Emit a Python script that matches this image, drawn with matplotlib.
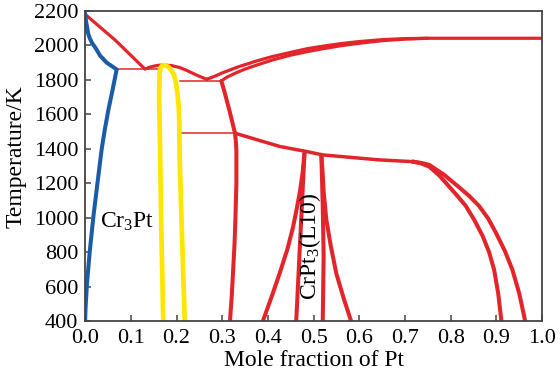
import matplotlib
matplotlib.use("Agg")
import matplotlib.pyplot as plt

plt.rcParams['font.family'] = ['Liberation Serif', 'DejaVu Serif']
plt.rcParams['mathtext.fontset'] = 'custom'
plt.rcParams['mathtext.rm'] = 'Liberation Serif'
plt.rcParams['mathtext.it'] = 'Liberation Serif:italic'

RED = '#e2242b'
BLUE = '#1c5ca6'
YELLOW = '#ffe600'

# Cr-rich bcc boundary (blue)
blue_x = [0.0, 0.002, 0.007, 0.011, 0.016, 0.022, 0.028, 0.033, 0.040, 0.047, 0.058, 0.069,
          0.060, 0.051, 0.043, 0.036, 0.027, 0.018, 0.010, 0.004, 0.001, 0.0]
blue_T = [2180, 2140, 2065, 2036, 2010, 1988, 1962, 1939, 1920, 1900, 1880, 1860,
          1740, 1627, 1510, 1393, 1200, 1004, 800, 616, 480, 400]

# liquidus, Cr side and dome
liqL_x = [0.0, 0.066, 0.131, 0.140, 0.150, 0.160, 0.171, 0.190, 0.207, 0.222, 0.237, 0.252, 0.266]
liqL_T = [2180, 2030, 1862, 1872, 1879, 1884, 1886, 1882, 1871, 1855, 1836, 1818, 1803]

# liquidus / solidus, Pt side
liqR_x = [0.266, 0.285, 0.30, 0.335, 0.375, 0.41, 0.448, 0.485, 0.52, 0.56, 0.60, 0.65, 0.70, 0.75, 1.0]
liqR_T = [1803, 1822, 1840, 1875, 1909, 1935, 1958, 1980, 1995, 2010, 2022, 2033, 2039, 2041, 2041]
solR_x = [0.298, 0.31, 0.33, 0.35, 0.375, 0.41, 0.448, 0.485, 0.52, 0.56, 0.60, 0.65, 0.70, 0.75]
solR_T = [1793, 1815, 1840, 1862, 1885, 1915, 1942, 1963, 1980, 1998, 2012, 2027, 2036, 2041]

# invariant lines
h_x = [(0.069, 0.164), (0.207, 0.298), (0.207, 0.328)]
h_T = [1862, 1793, 1490]

# intermediate phase (yellow)
yel_x = [0.171, 0.167, 0.164, 0.162, 0.163, 0.165, 0.170, 0.177, 0.184, 0.190, 0.195,
         0.199, 0.202, 0.205, 0.206, 0.207, 0.212, 0.218]
yel_T = [400, 900, 1400, 1700, 1840, 1870, 1886, 1884, 1870, 1850, 1825,
         1780, 1720, 1640, 1560, 1335, 900, 400]

# fcc boundary below peritectic
fcc_x = [0.298, 0.304, 0.310, 0.316, 0.322, 0.328, 0.330, 0.331, 0.331, 0.329, 0.327, 0.324, 0.321, 0.317]
fcc_T = [1793, 1740, 1680, 1620, 1555, 1490, 1440, 1390, 1200, 1000, 850, 700, 550, 400]

# ordering line
ord_x = [0.328, 0.426, 0.484, 0.52, 0.644, 0.717]
ord_T = [1490, 1413, 1384, 1364, 1335, 1325]
ordA_x = [0.717, 0.735, 0.753, 0.785, 0.819, 0.842, 0.862, 0.882, 0.899, 0.918, 0.935, 0.950, 0.963]
ordA_T = [1325, 1318, 1306, 1250, 1175, 1122, 1068, 995, 912, 810, 698, 560, 400]
ordB_x = [0.717, 0.735, 0.753, 0.775, 0.797, 0.815, 0.833, 0.852, 0.870, 0.884, 0.895, 0.904, 0.911]
ordB_T = [1325, 1315, 1296, 1245, 1179, 1125, 1068, 985, 893, 800, 698, 560, 400]

# L10 region
l1a_x = [0.480, 0.476, 0.470, 0.463, 0.455, 0.443, 0.426, 0.408, 0.389]
l1a_T = [1374, 1260, 1150, 1050, 945, 820, 679, 540, 400]
l1b_x = [0.480, 0.4706, 0.462]
l1b_T = [1374, 867, 400]
l2a_x = [0.517, 0.520, 0.522, 0.520]
l2a_T = [1364, 1068, 776, 400]
l2b_x = [0.517, 0.520, 0.522, 0.528, 0.538, 0.55, 0.566, 0.582]
l2b_T = [1364, 1250, 1150, 985, 830, 673, 530, 400]

x_ticks = [0.0, 0.1, 0.2, 0.3, 0.4, 0.5, 0.6, 0.7, 0.8, 0.9, 1.0]
y_ticks = [400, 600, 800, 1000, 1200, 1400, 1600, 1800, 2000, 2200]

fig = plt.figure(figsize=(5.6, 3.75), dpi=100)
ax = fig.add_axes([0.152, 0.144, 0.816, 0.827])

lw = 2.9
kw = dict(color=RED, solid_joinstyle='round', solid_capstyle='round')
ax.plot(liqL_x, liqL_T, lw=lw - 0.6, **kw)
ax.plot(liqR_x, liqR_T, lw=lw - 0.6, **kw)
ax.plot(solR_x, solR_T, lw=lw - 0.6, **kw)
for (x0, x1), t in zip(h_x, h_T):
    ax.plot([x0, x1], [t, t], color=RED, lw=1.1)
ax.plot(fcc_x, fcc_T, lw=lw, **kw)
ax.plot(ord_x, ord_T, lw=lw - 0.4, **kw)
ax.plot(ordA_x, ordA_T, lw=lw, **kw)
ax.plot(ordB_x, ordB_T, lw=lw, **kw)
ax.plot(l1a_x, l1a_T, lw=lw, **kw)
ax.plot(l1b_x, l1b_T, lw=lw, **kw)
ax.plot(l2a_x, l2a_T, lw=lw, **kw)
ax.plot(l2b_x, l2b_T, lw=lw, **kw)
ax.plot(yel_x, yel_T, color=YELLOW, lw=3.4, solid_joinstyle='round')
ax.plot(blue_x, blue_T, color=BLUE, lw=lw, solid_joinstyle='round')

ax.text(0.033, 973, r'Cr$_3$Pt', fontsize=17, ha='left', va='center')
ax.text(0.4913, 832, r'CrPt$_3$(L10)', fontsize=17, rotation=90,
        ha='center', va='center')

ax.set_xlim(0, 1.0)
ax.set_ylim(400, 2200)
ax.set_xticks(x_ticks)
ax.set_xticklabels([f"{v:.1f}" for v in x_ticks])
ax.set_yticks(y_ticks)
ax.tick_params(direction='in', length=4, width=1.1, color='#444444',
               labelsize=16, top=False, right=False)
ax.tick_params(axis='x', pad=6)
ax.tick_params(axis='y', pad=5)
for s in ax.spines.values():
    s.set_color('#444444')
    s.set_linewidth(1.3)

ax.set_xlabel('Mole fraction of Pt', fontsize=17, labelpad=1)
ax.set_ylabel('Temperature/K', fontsize=17)
ax.yaxis.set_label_coords(-0.128, 0.53)

fig.savefig('out.png', dpi=100)
